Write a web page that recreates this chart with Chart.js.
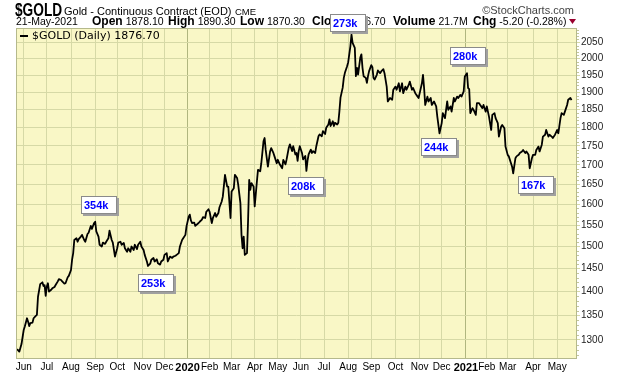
<!DOCTYPE html>
<html>
<head>
<meta charset="utf-8">
<script src="https://cdn.jsdelivr.net/npm/chart.js@4.4.1/dist/chart.umd.min.js"></script>
<style>
  html, body { margin: 0; padding: 0; background: #fff; }
  #c { display: block; }
</style>
</head>
<body>
<canvas id="c" width="620" height="376"></canvas>
<script>
// [trading day since 20-May-2019, close]
const goldCloses = [
  [1,1282],[3,1277],[5,1292],[7,1320],[8,1327],[10,1344],[11,1337],[12,1328],[13,1334],[15,1335],
  [16,1344],[18,1349],[19,1351],[20,1389],[22,1416],[24,1420],[25,1412],[26,1414],[27,1391],[28,1411],
  [29,1418],[30,1400],[32,1404],[33,1407],[35,1410],[36,1414],[38,1422],[39,1427],[41,1425],[42,1422],
  [44,1417],[45,1418],[47,1431],[48,1434],[50,1447],[51,1470],[52,1485],[53,1515],[55,1519],[56,1511],
  [57,1517],[59,1523],[60,1527],[62,1515],[63,1511],[65,1529],[66,1532],[68,1548],[69,1541],[71,1555],
  [72,1558],[73,1535],[75,1523],[76,1504],[78,1500],[79,1509],[81,1506],[82,1511],[84,1519],[85,1537],
  [87,1515],[88,1509],[90,1477],[92,1496],[93,1509],[95,1511],[96,1504],[98,1508],[99,1496],[101,1488],
  [102,1496],[104,1488],[105,1500],[107,1492],[108,1504],[110,1494],[111,1504],[113,1511],[114,1500],[116,1492],
  [117,1481],[119,1466],[120,1456],[122,1461],[123,1470],[125,1474],[126,1466],[128,1471],[129,1462],[131,1459],
  [132,1466],[134,1470],[135,1481],[137,1485],[138,1466],[140,1477],[142,1474],[143,1477],[145,1479],[146,1481],
  [148,1485],[149,1500],[151,1515],[152,1519],[154,1527],[155,1547],[157,1570],[158,1575],[159,1561],[160,1555],
  [162,1556],[163,1548],[166,1555],[167,1558],[169,1563],[170,1569],[172,1567],[173,1582],[175,1588],[176,1582],
  [178,1555],[179,1567],[181,1579],[182,1570],[184,1579],[185,1593],[187,1607],[188,1619],[190,1674],[192,1644],
  [193,1644],[195,1567],[196,1632],[198,1640],[199,1674],[201,1666],[202,1649],[204,1603],[205,1527],[206,1496],
  [207,1523],[208,1481],[210,1485],[211,1563],[212,1661],[213,1636],[214,1653],[216,1644],[217,1595],[219,1657],
  [220,1687],[222,1683],[223,1704],[225,1762],[226,1771],[227,1739],[228,1717],[229,1695],[231,1735],[232,1744],
  [234,1731],[235,1722],[237,1704],[238,1713],[240,1700],[242,1691],[243,1713],[245,1701],[246,1714],[248,1745],
  [249,1754],[251,1736],[252,1749],[254,1727],[255,1731],[256,1710],[257,1736],[258,1749],[260,1731],[261,1714],
  [263,1723],[264,1684],[265,1710],[266,1727],[268,1740],[269,1731],[270,1736],[272,1731],[273,1749],[275,1776],
  [276,1781],[278,1776],[279,1790],[281,1782],[282,1799],[284,1808],[285,1822],[286,1804],[288,1817],[289,1804],
  [290,1813],[292,1808],[293,1813],[294,1845],[295,1884],[297,1913],[298,1942],[299,1957],[301,1977],[302,1989],
  [304,2039],[305,2075],[306,2049],[308,2033],[309,1947],[310,1972],[311,1952],[313,2003],[314,2013],[315,1972],
  [316,1947],[318,1942],[319,1927],[320,1947],[321,1962],[323,1980],[324,1974],[325,1942],[326,1937],[328,1951],
  [329,1964],[331,1956],[332,1961],[334,1968],[335,1956],[337,1916],[338,1873],[340,1883],[342,1878],[343,1907],
  [345,1916],[346,1907],[348,1926],[349,1902],[351,1926],[352,1897],[354,1916],[355,1907],[357,1921],[358,1931],
  [360,1907],[361,1912],[363,1897],[364,1892],[366,1883],[367,1897],[369,1926],[370,1951],[371,1912],[372,1863],
  [374,1887],[375,1873],[377,1883],[378,1863],[380,1873],[382,1859],[383,1830],[384,1807],[385,1784],[387,1812],
  [388,1840],[390,1826],[392,1873],[393,1849],[395,1859],[396,1844],[398,1883],[399,1873],[401,1887],[402,1883],
  [404,1892],[405,1887],[407,1902],[408,1946],[410,1956],[411,1912],[412,1909],[413,1840],[415,1854],[416,1849],
  [418,1835],[419,1868],[421,1868],[422,1863],[424,1854],[425,1863],[427,1844],[428,1859],[430,1830],[432,1793],
  [433,1835],[435,1840],[436,1826],[438,1812],[439,1775],[441,1802],[442,1807],[444,1798],[445,1748],[447,1726],
  [448,1722],[450,1704],[451,1695],[452,1678],[454,1717],[455,1722],[457,1726],[458,1731],[460,1735],[461,1739],
  [463,1731],[464,1735],[466,1726],[467,1691],[469,1717],[470,1726],[472,1726],[473,1739],[475,1748],[476,1735],
  [478,1753],[479,1775],[481,1780],[482,1793],[484,1775],[485,1780],[487,1775],[488,1771],[490,1780],[492,1793],
  [493,1784],[495,1826],[496,1840],[498,1835],[499,1844],[501,1863],[502,1878],[504,1883],[505,1877]
];

// month gridlines (trading day of first session)
const monthTickDays = [7,28,50,72,92,115,135,156,176,196,217,238,259,280,302,323,345,367,387,409,428,447,470,492];
const monthTickLabels = ['Jun','Jul','Aug','Sep','Oct','Nov','Dec','2020','Feb','Mar','Apr','May',
                         'Jun','Jul','Aug','Sep','Oct','Nov','Dec','2021','Feb','Mar','Apr','May'];
const priceTicks = [1300,1350,1400,1450,1500,1550,1600,1650,1700,1750,1800,1850,1900,1950,2000,2050];

// volume call-outs: text, and box top-left in (trading day, price)
const noteTexts  = ['354k','253k','208k','273k','280k','244k','167k'];
const noteDays   = [59, 111, 247.5, 285, 394.5, 368, 456.6];
const notePrices = [1621, 1438.5, 1668, 2142, 2035.6, 1771, 1671.4];

const PLOT_BG = '#f9f7c6';
const GRID = '#d6d9a6';
const YEAR_GRID = '#b0b67f';
const SANS = '"Liberation Sans", Arial, sans-serif';

const isYearTick = v => /^20/.test(monthTickLabels[monthTickDays.indexOf(v)] || '');

function drawNote(ctx, x, y, text) {
    x = Math.round(x); y = Math.round(y);
    ctx.fillStyle = '#a0a0a0';
    ctx.fillRect(x + 2, y + 2, 36, 18);
    ctx.fillStyle = '#fff';
    ctx.fillRect(x, y, 36, 18);
    ctx.strokeStyle = '#8a8a8a';
    ctx.lineWidth = 1;
    ctx.strokeRect(x + 0.5, y + 0.5, 35, 17);
    ctx.fillStyle = '#0000ff';
    ctx.font = 'bold 11px ' + SANS;
    ctx.textAlign = 'left';
    ctx.textBaseline = 'alphabetic';
    ctx.fillText(text, x + 3, y + 13);
}

function drawHeader(ctx) {
    ctx.textAlign = 'left';
    ctx.textBaseline = 'alphabetic';
    ctx.fillStyle = '#000';

    // title row
    ctx.save();
    ctx.translate(15, 16);
    ctx.scale(0.76, 1);
    ctx.font = 'bold 18px ' + SANS;
    ctx.fillText('$GOLD', 0, 0);
    ctx.restore();
    ctx.font = '11px ' + SANS;
    ctx.fillText('Gold - Continuous Contract (EOD)', 64, 15);
    ctx.font = '9.5px ' + SANS;
    ctx.fillText('CME', 235, 15);
    ctx.fillStyle = '#444';
    ctx.font = '11px ' + SANS;
    ctx.textAlign = 'right';
    ctx.fillText('\u00A9StockCharts.com', 574, 14);

    // quote row
    ctx.textAlign = 'left';
    ctx.fillStyle = '#000';
    ctx.font = '10.5px ' + SANS;
    ctx.fillText('21-May-2021', 16, 25);
    const pairs = [['Open', '1878.10', 92], ['High', '1890.30', 168], ['Low', '1870.30', 240],
                   ['Close', '1876.70', 312], ['Volume', '21.7M', 393], ['Chg', '-5.20 (-0.28%)', 473]];
    pairs.forEach(([k, v, x]) => {
        ctx.font = 'bold 12px ' + SANS;
        ctx.fillText(k, x, 25);
        const w = ctx.measureText(k).width;
        ctx.font = '10.5px ' + SANS;
        ctx.fillText(v, x + w + 3, 25);
    });
    ctx.fillStyle = '#99002e';
    ctx.beginPath();
    ctx.moveTo(569, 19); ctx.lineTo(576, 19); ctx.lineTo(572.5, 24);
    ctx.closePath();
    ctx.fill();
}

const paper = {
    id: 'paper',
    beforeDraw(chart) {
        const { ctx, chartArea: a } = chart;
        ctx.save();
        ctx.fillStyle = '#fff';
        ctx.fillRect(0, 0, chart.width, chart.height);
        ctx.fillStyle = PLOT_BG;
        ctx.fillRect(a.left, a.top, a.right - a.left, a.bottom - a.top);
        ctx.restore();
    },
    afterDraw(chart) {
        const { ctx, chartArea: a, scales } = chart;
        ctx.save();
        // plot frame
        ctx.strokeStyle = '#b5b98c';
        ctx.lineWidth = 1;
        ctx.strokeRect(a.left + 0.5, a.top + 0.5, a.right - a.left - 1, a.bottom - a.top - 1);

        // minor price ticks on the right edge
        ctx.strokeStyle = '#c4c79a';
        ctx.beginPath();
        for (let p = 1270; p <= 2090; p += 10) {
            if (p % 50 === 0) continue;
            const y = Math.round(scales.y.getPixelForValue(p)) + 0.5;
            ctx.moveTo(a.right, y); ctx.lineTo(a.right + 2, y);
        }
        ctx.stroke();

        // in-chart legend
        ctx.strokeStyle = '#000';
        ctx.lineWidth = 2;
        ctx.beginPath();
        ctx.moveTo(20, 36); ctx.lineTo(28, 36);
        ctx.stroke();
        ctx.fillStyle = '#000';
        ctx.font = '11px "DejaVu Sans", Verdana, sans-serif';
        ctx.textBaseline = 'middle';
        ctx.fillText('$GOLD (Daily) 1876.70', 32, 36);

        drawHeader(ctx);

        noteTexts.forEach((t, i) => {
            drawNote(ctx, scales.x.getPixelForValue(noteDays[i]), scales.y.getPixelForValue(notePrices[i]), t);
        });
        ctx.restore();
    }
};

new Chart(document.getElementById('c'), {
    type: 'line',
    data: {
        datasets: [{
            data: goldCloses.map(([d, p]) => ({ x: d, y: p })),
            borderColor: '#000',
            borderWidth: 1.8,
            borderJoinStyle: 'round',
            pointRadius: 0,
            tension: 0
        }]
    },
    options: {
        responsive: false,
        animation: false,
        events: [],
        layout: { padding: { left: 16, top: 28, right: 0, bottom: 0 } },
        plugins: { legend: { display: false }, tooltip: { enabled: false } },
        scales: {
            x: {
                type: 'linear',
                min: 0,
                max: 510,
                afterBuildTicks: s => { s.ticks = monthTickDays.map(v => ({ value: v })); },
                afterFit: s => { s.height = 17; },
                grid: { color: c => (c.tick && isYearTick(c.tick.value)) ? YEAR_GRID : GRID, drawTicks: false },
                border: { display: false },
                ticks: {
                    autoSkip: false,
                    maxRotation: 0,
                    padding: 2,
                    color: '#000',
                    font: c => (c.tick && isYearTick(c.tick.value))
                        ? { family: SANS, size: 11, weight: 'bold' }
                        : { family: SANS, size: 10 },
                    callback: v => monthTickLabels[monthTickDays.indexOf(v)]
                }
            },
            y: {
                type: 'logarithmic',
                position: 'right',
                min: 1262.7,
                max: 2096,
                afterBuildTicks: s => { s.ticks = priceTicks.map(v => ({ value: v })); },
                afterFit: s => { s.width = 43; },
                grid: { color: GRID, tickLength: 3 },
                border: { display: false },
                ticks: {
                    padding: 1,
                    color: '#222',
                    font: { family: SANS, size: 10 },
                    callback: v => String(v)
                }
            }
        }
    },
    plugins: [paper]
});
</script>
</body>
</html>
